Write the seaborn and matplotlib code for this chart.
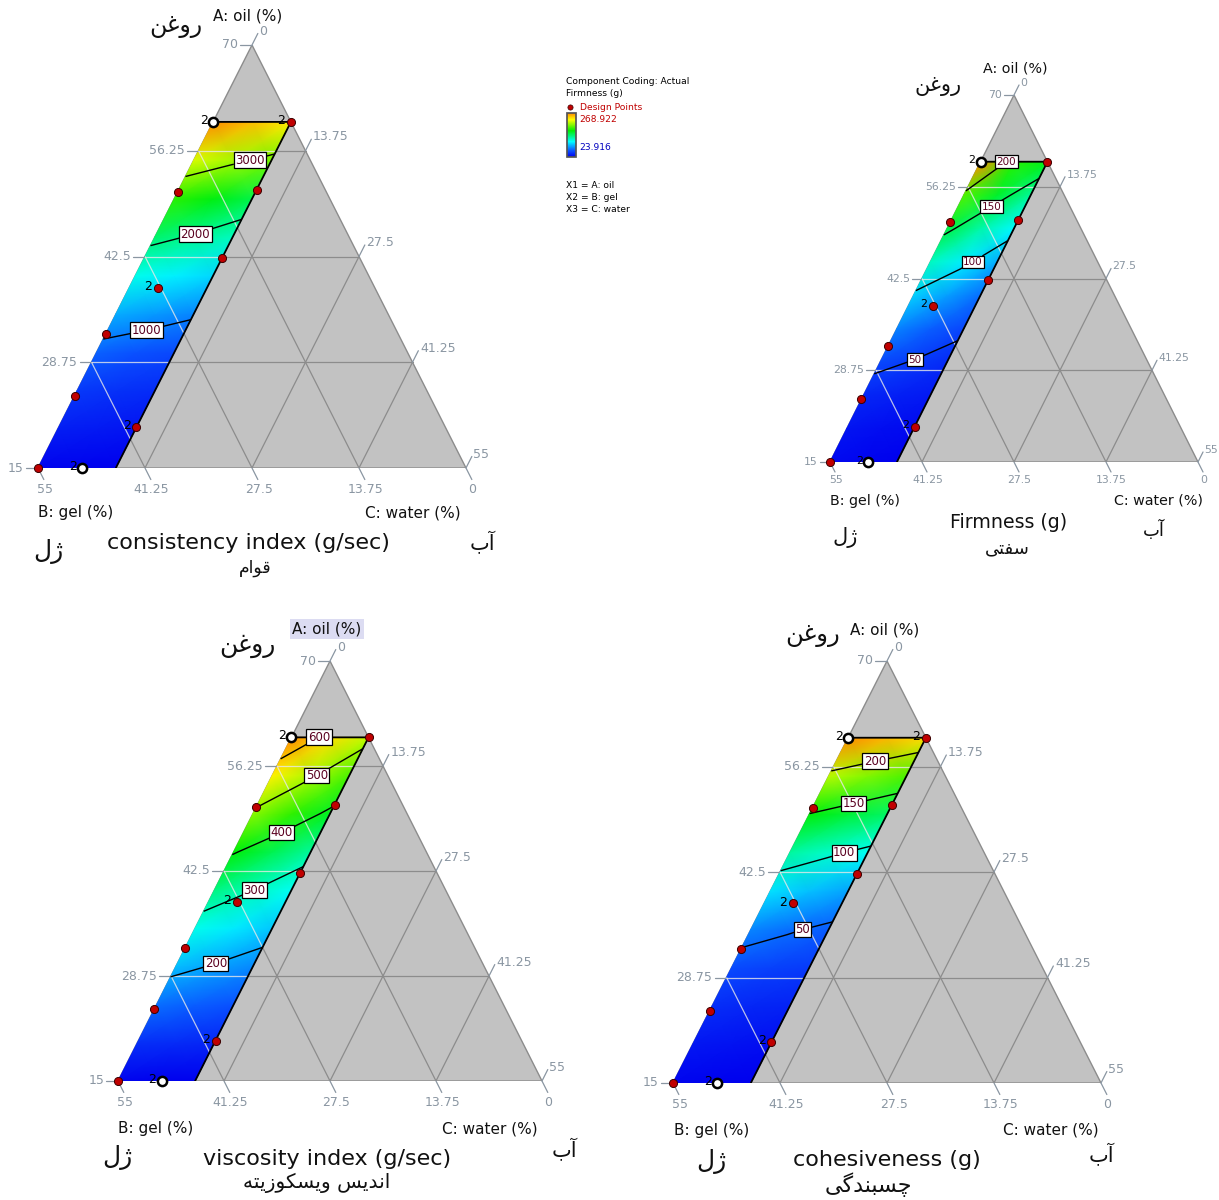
import numpy as np
import matplotlib
matplotlib.use('Agg')
import matplotlib.pyplot as plt
import seaborn as sns
from matplotlib.colors import LinearSegmentedColormap, Normalize
from matplotlib.cm import ScalarMappable
from matplotlib.patches import Polygon

sns.set_theme(style='white')
plt.rcParams['font.family'] = ['DejaVu Sans']

# ---- data ----
# response grid: oil levels (A, %) x water levels (C, %), gel = 70 - A - C
A_LEVELS = [15, 20, 25, 30, 35, 40, 45, 50, 55, 60]
C_LEVELS = [0, 5, 10]

consistency_c0 = [330, 480, 650, 880, 1220, 1640, 2100, 2640, 3260, 3960]
consistency_c5 = [310, 450, 610, 820, 1130, 1520, 1960, 2430, 3080, 3730]
consistency_c10 = [290, 420, 570, 760, 1040, 1400, 1800, 2230, 2900, 3500]

firmness_c0 = [28, 33, 41, 55, 73, 96, 125, 156, 190, 269]
firmness_c5 = [26, 30, 38, 49, 63, 82, 105, 131, 160, 180]
firmness_c10 = [24, 28, 35, 43, 54, 68, 86, 108, 135, 165]

viscosity_c0 = [60, 105, 160, 215, 272, 335, 405, 488, 565, 645]
viscosity_c5 = [57, 100, 149, 196, 247, 301, 362, 437, 509, 582]
viscosity_c10 = [55, 95, 138, 178, 222, 268, 320, 387, 453, 520]

cohesiveness_c0 = [12, 20, 29, 41, 58, 84, 114, 149, 193, 245]
cohesiveness_c5 = [11, 18, 26, 37, 52, 75, 104, 138, 180, 232]
cohesiveness_c10 = [10, 16, 24, 34, 46, 66, 94, 128, 168, 220]

consistency_levels = [1000, 2000, 3000]
firmness_levels = [50, 100, 150, 200]
viscosity_levels = [200, 300, 400, 500, 600]
cohesiveness_levels = [50, 100, 150, 200]

# design points
DESIGN_OIL = [60, 60, 50.9, 51.2, 42.3, 38.4, 32.4, 24.4, 20.3, 15, 15]
DESIGN_WATER = [0, 10, 0, 10, 10, 3.7, 0, 0, 10, 0, 5.7]
DESIGN_OPEN = [True, False, False, False, False, False, False, False, False, False, True]
DESIGN_REPS = [2, 2, 1, 1, 1, 2, 1, 1, 2, 1, 2]

FIRMNESS_RANGE = [23.916, 268.922]

# axis ticks
A_TICKS = [15, 28.75, 42.5, 56.25, 70]
BC_TICKS = [0, 13.75, 27.5, 41.25, 55]

# Persian labels (pre-shaped, visual order)
FA_OIL = '\uFEE6\uFECF\uFEED\uFEAD'
FA_GEL = '\u0644\u0698'
FA_WATER = '\u0628\u0622'
FA_CONSISTENCY = '\uFEE1\uFE8D\uFEEE\uFED7'
FA_FIRMNESS = '\uFEF0\uFE98\uFED4\uFEB3'
FA_VISCOSITY = ('\uFEEA\uFE98\uFEF3\uFEAF\uFEEE\uFEDC\uFEB4\uFEF3\uFEED '
                '\uFEB2\uFEF3\uFEAA\uFEE7\uFE8D')
FA_COHESIVENESS = '\uFEF0\uFB94\uFEAA\uFEE8\uFE92\uFEB4\uFB7C'

DE_CMAP = LinearSegmentedColormap.from_list('design_expert', [
    (0.0, '#0000ee'), (0.14, '#0a50ff'), (0.35, '#00ffff'),
    (0.6, '#00ee00'), (0.85, '#ffff00'), (1.0, '#ff8a00')])

W, H = 1219, 1200
fig = plt.figure(figsize=(W / 100, H / 100), dpi=100)
fig.patch.set_facecolor('white')

PANELS = [
    dict(z=[consistency_c0, consistency_c5, consistency_c10], levels=consistency_levels,
         box=(38, 468, 466, 45), title='consistency index (g/sec)', fa_title=FA_CONSISTENCY,
         tr_rep=True, oil_box=False,
         size=dict(cap=11, title=16, fa_oil=17, fa_gel=18, fa_water=15, fa_title=12.5, tick=9, clab=8.5),
         pos=dict(oil=(248, 16), oil_fa=(176, 26), gel=(76, 513), water=(413, 513),
                  title=(248, 543), title_fa=(255, 568), gel_fa=(48, 551), water_fa=(482, 543))),
    dict(z=[firmness_c0, firmness_c5, firmness_c10], levels=firmness_levels,
         box=(830, 462, 1198, 95), title='Firmness (g)', fa_title=FA_FIRMNESS,
         tr_rep=False, oil_box=False,
         size=dict(cap=10.3, title=13.7, fa_oil=15, fa_gel=15, fa_water=13, fa_title=13, tick=7.8, clab=7.5),
         pos=dict(oil=(1015, 69), oil_fa=(938, 86), gel=(865, 501), water=(1159, 501),
                  title=(1009, 523), title_fa=(1007, 548), gel_fa=(845, 537), water_fa=(1154, 530))),
    dict(z=[viscosity_c0, viscosity_c5, viscosity_c10], levels=viscosity_levels,
         box=(118, 1081, 542, 661), title='viscosity index (g/sec)', fa_title=FA_VISCOSITY,
         tr_rep=False, oil_box=True,
         size=dict(cap=11, title=16, fa_oil=18, fa_gel=18, fa_water=15, fa_title=14.5, tick=9, clab=8.5),
         pos=dict(oil=(327, 629), oil_fa=(247, 646), gel=(156, 1129), water=(490, 1129),
                  title=(327, 1159), title_fa=(317, 1183), gel_fa=(117, 1157), water_fa=(564, 1150))),
    dict(z=[cohesiveness_c0, cohesiveness_c5, cohesiveness_c10], levels=cohesiveness_levels,
         box=(673, 1083, 1101, 661), title='cohesiveness (g)', fa_title=FA_COHESIVENESS,
         tr_rep=True, oil_box=False,
         size=dict(cap=11, title=16, fa_oil=17.5, fa_gel=18, fa_water=15, fa_title=16, tick=9, clab=8.5),
         pos=dict(oil=(885, 630), oil_fa=(813, 635), gel=(712, 1130), water=(1051, 1130),
                  title=(887, 1160), title_fa=(868, 1185), gel_fa=(711, 1162), water_fa=(1101, 1155))),
]


def to_xy(oil, water):
    """Ternary (A, C) -> panel cartesian coords (x = C + (A-15)/2, y = A)."""
    oil = np.asarray(oil, dtype=float)
    water = np.asarray(water, dtype=float)
    return water + (oil - 15) / 2, oil


def ftext(px, py, s, **kw):
    fig.text(px / W, 1 - py / H, s, ha='center', va='center', **kw)


def draw_panel(p):
    bl_x, bl_y, br_x, top_y = p['box']
    ax = fig.add_axes([bl_x / W, 1 - bl_y / H, (br_x - bl_x) / W, (bl_y - top_y) / H])
    ax.axis('off')
    sz = p['size']
    grid_col = '#8c8c8c'
    tick_col = '#8a96a2'

    # whole triangle
    tx, ty = to_xy([15, 15, 70], [0, 55, 0])
    ax.add_patch(Polygon(np.column_stack([tx, ty]), closed=True, fc='#c2c2c2',
                         ec=grid_col, lw=1.0, zorder=1))

    # grid lines (component = const)
    segs = []
    for v in A_TICKS[1:-1]:
        segs.append(((v, 0), (v, 70 - v)))
    for c in BC_TICKS[1:-1]:
        segs.append(((15, c), (70 - c, c)))
    for b in BC_TICKS[1:-1]:
        segs.append(((15, 55 - b), (70 - b, 0)))

    # feasible region
    rx, ry = to_xy([15, 15, 60, 60], [0, 10, 10, 0])
    region = Polygon(np.column_stack([rx, ry]), closed=True, fc='none', ec='none')
    ax.add_patch(region)

    for (a1, c1), (a2, c2) in segs:
        xs, ys = to_xy([a1, a2], [c1, c2])
        ax.plot(xs, ys, color=grid_col, lw=0.9, zorder=1.5)
        ln, = ax.plot(xs, ys, color='#e8e8e8', lw=0.9, alpha=0.8, zorder=3)
        ln.set_clip_path(region)

    # response surface
    Am, Cm = np.meshgrid(A_LEVELS, C_LEVELS, indexing='ij')
    X, Y = to_xy(Am, Cm)
    Z = np.array(p['z'], dtype=float).T
    ax.pcolormesh(X, Y, Z, shading='gouraud', cmap=DE_CMAP,
                  vmin=Z.min(), vmax=Z.max(), zorder=2)
    cs = ax.contour(X, Y, Z, levels=p['levels'], colors='black', linewidths=1.0, zorder=4)
    labels = ax.clabel(cs, fmt='%d', fontsize=sz['clab'], inline=True, inline_spacing=1)
    for t in labels:
        t.set_rotation(0)
        t.set_color('#5a0020')
        t.set_zorder(5)
        t.set_bbox(dict(boxstyle='square,pad=0.12', fc='white', ec='black', lw=0.9))

    # region border (water = 10 and oil = 60 edges)
    ex, ey = to_xy([15, 60, 60], [10, 10, 0])
    ax.plot(ex, ey, color='black', lw=1.3, zorder=4)

    # tick stubs + labels
    t_len = 1.5
    for v in A_TICKS:
        x0, y0 = to_xy(v, 0)
        ax.plot([x0, x0 - t_len], [y0, y0], color=tick_col, lw=0.9, clip_on=False)
        ax.text(x0 - t_len - 0.3, y0, f'{v:g}', color=tick_col, fontsize=sz['tick'],
                ha='right', va='center')
    for c in BC_TICKS:
        x0, y0 = to_xy(70 - c, c)
        ax.plot([x0, x0 + t_len / 2], [y0, y0 + t_len], color=tick_col, lw=0.9, clip_on=False)
        ax.text(x0 + t_len / 2 + 0.2, y0 + t_len + 0.3, f'{c:g}', color=tick_col,
                fontsize=sz['tick'], ha='left', va='center')
    for b in BC_TICKS:
        x0, y0 = to_xy(15, 55 - b)
        ax.plot([x0, x0 + t_len / 2], [y0, y0 - t_len], color=tick_col, lw=0.9, clip_on=False)
        ax.text(x0 + t_len / 2 + 0.1, y0 - t_len - 0.5, f'{b:g}', color=tick_col,
                fontsize=sz['tick'], ha='center', va='top')

    # design points
    dx, dy = to_xy(DESIGN_OIL, DESIGN_WATER)
    is_open = np.array(DESIGN_OPEN)
    sns.scatterplot(x=dx[~is_open], y=dy[~is_open], ax=ax, color='#c00000',
                    edgecolor='#3a0000', s=34, linewidth=0.7, zorder=7, clip_on=False)
    sns.scatterplot(x=dx[is_open], y=dy[is_open], ax=ax, color='white',
                    edgecolor='black', s=44, linewidth=1.8, zorder=7, clip_on=False)
    for i, (x, y) in enumerate(zip(dx, dy)):
        if DESIGN_REPS[i] < 2 or (i == 1 and not p['tr_rep']):
            continue
        ax.annotate(str(DESIGN_REPS[i]), (x, y), xytext=(-4, 1), textcoords='offset points',
                    ha='right', va='center', fontsize=sz['tick'], color='black', zorder=8)

    ax.set_xlim(0, 55)
    ax.set_ylim(15, 70)

    # axis captions
    pos = p['pos']
    ink = '#111111'
    oil_kw = dict(fontsize=sz['cap'], color=ink)
    if p['oil_box']:
        oil_kw['bbox'] = dict(boxstyle='square,pad=0.15', fc='#dcdcf2', ec='none')
    ftext(*pos['oil'], 'A: oil (%)', **oil_kw)
    ftext(*pos['gel'], 'B: gel (%)', fontsize=sz['cap'], color=ink)
    ftext(*pos['water'], 'C: water (%)', fontsize=sz['cap'], color=ink)
    ftext(*pos['title'], p['title'], fontsize=sz['title'], color=ink)
    ftext(*pos['oil_fa'], FA_OIL, fontsize=sz['fa_oil'], color=ink)
    ftext(*pos['gel_fa'], FA_GEL, fontsize=sz['fa_gel'], color=ink)
    ftext(*pos['water_fa'], FA_WATER, fontsize=sz['fa_water'], color=ink)
    ftext(*pos['title_fa'], p['fa_title'], fontsize=sz['fa_title'], color=ink)


for panel in PANELS:
    draw_panel(panel)

# ---- legend block (Design-Expert style) ----
lx = 566
lfs = 6.6
fig.text(lx / W, 1 - 81 / H, 'Component Coding: Actual', fontsize=lfs, va='center', color='black')
fig.text(lx / W, 1 - 94 / H, 'Firmness (g)', fontsize=lfs, va='center', color='black')
leg_ax = fig.add_axes([(lx - 1) / W, 1 - 112 / H, 10 / W, 10 / H])
leg_ax.axis('off')
leg_ax.set_xlim(0, 1)
leg_ax.set_ylim(0, 1)
leg_ax.scatter([0.5], [0.5], s=14, color='#c00000', edgecolor='#3a0000', linewidth=0.5)
fig.text(580 / W, 1 - 107 / H, 'Design Points', fontsize=lfs, va='center', color='#c00000')
cax = fig.add_axes([567 / W, 1 - 157 / H, 9 / W, 44 / H])
cb = fig.colorbar(ScalarMappable(norm=Normalize(*FIRMNESS_RANGE), cmap=DE_CMAP), cax=cax)
cb.set_ticks([])
cb.outline.set_edgecolor('#555555')
fig.text(579 / W, 1 - 119 / H, f'{FIRMNESS_RANGE[1]:g}', fontsize=lfs, va='center', color='#c00000')
fig.text(579 / W, 1 - 147 / H, f'{FIRMNESS_RANGE[0]:g}', fontsize=lfs, va='center', color='#0000c0')
for k, s in enumerate(['X1 = A: oil', 'X2 = B: gel', 'X3 = C: water']):
    fig.text(lx / W, 1 - (186 + 12 * k) / H, s, fontsize=lfs, va='center', color='black')

fig.savefig('out.png', dpi=100)
